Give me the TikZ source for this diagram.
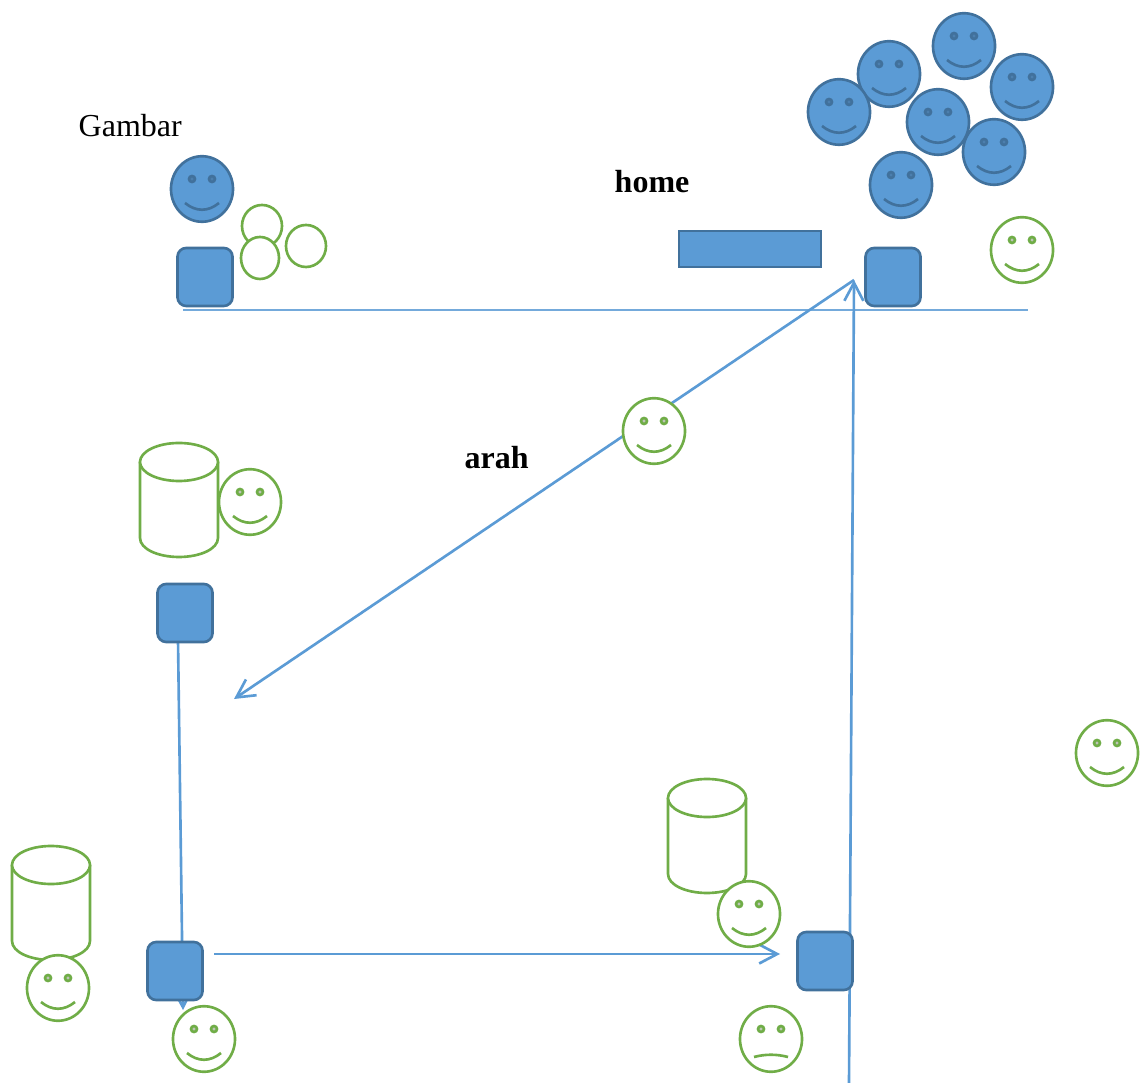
\documentclass[tikz,border=0pt]{standalone}
\usepackage{fontspec}
\setmainfont{Liberation Serif}
\usetikzlibrary{arrows.meta,shapes.geometric}

\definecolor{boxblue}{HTML}{5B9BD5}
\definecolor{edgeblue}{HTML}{41719C}
\definecolor{eyeblue}{HTML}{4C7FAE}
\definecolor{facegreen}{HTML}{70AD47}
\definecolor{eyegrey}{HTML}{BDC4B6}

\tikzset{
  facebody/.style={ellipse, inner sep=0pt, minimum width=0.62cm, minimum height=0.655cm, line width=0.75pt},
  blueface/.style={facebody, draw=edgeblue, fill=boxblue},
  greenface/.style={facebody, draw=facegreen, fill=white},
  robot/.style={draw=edgeblue, fill=boxblue, line width=0.75pt, rounded corners=2.5pt, inner sep=0pt, minimum width=0.55cm, minimum height=0.58cm},
  tin/.style={draw=facegreen, fill=white, line width=0.75pt},
  route/.style={draw=boxblue, line width=0.75pt, -{Straight Barb[length=0.18cm,width=0.19cm]}},
  label/.style={inner sep=0pt, anchor=base west, font=\fontsize{9.1}{11}\selectfont},
}

% face: name, x, y, line colour, eye colour, mouth corner, mouth control
\newcommand{\face}[7]{
  \node[#4face] (#1) at (#2,#3) {};
  \fill[#5, draw=#4Line, line width=0.75pt] (#2-10,#3-10) circle (0.03cm) (#2+10,#3-10) circle (0.03cm);
  \draw[#4Line, line width=0.75pt] (#2-17,#3+#6) .. controls (#2-6,#3+#7) and (#2+6,#3+#7) .. (#2+17,#3+#6);
}
\colorlet{blueLine}{edgeblue}
\colorlet{greenLine}{facegreen}

% tin: left x, top y (78 wide, 114 high)
\newcommand{\tincan}[2]{
  \draw[tin] (#1,#2+19) -- (#1,#2+95) .. controls (#1,#2+106) and (#1+18,#2+114) .. (#1+39,#2+114)
    .. controls (#1+60,#2+114) and (#1+78,#2+106) .. (#1+78,#2+95) -- (#1+78,#2+19);
  \draw[tin] (#1+39,#2+19) ellipse (0.39cm and 0.19cm);
}

\begin{document}
\begin{tikzpicture}[x=0.01cm,y=-0.01cm]
\useasboundingbox (0,0) rectangle (1140,1083);

% Ends of the routes
\coordinate (homeTip) at (854,280);
\coordinate (arahEnd) at (234,699);
\coordinate (upStart) at (849,1083);
\coordinate (leftTop) at (178,640);
\coordinate (leftEnd) at (183,1010);
\coordinate (lowStart) at (214,954);
\coordinate (lowEnd) at (780,954);
\coordinate (floorA) at (183,310);
\coordinate (floorB) at (1028,310);

% Routes
\draw[boxblue!85!white, line width=0.35pt] (floorA) -- (floorB);
\draw[route] (homeTip) -- (arahEnd);
\draw[route] (upStart) -- (homeTip);
\draw[route] (leftTop) -- (leftEnd);
\draw[route] (lowStart) -- (lowEnd);

% Boxes
\node[robot] (boxGambar) at (205,277) {};
\node[robot] (boxHome) at (893,277) {};
\node[robot] (boxLeft) at (185,613) {};
\node[robot] (boxLow) at (175,971) {};
\node[robot] (boxRight) at (825,961) {};
\node[draw=edgeblue, fill=boxblue, line width=0.75pt, inner sep=0pt, minimum width=1.42cm, minimum height=0.36cm] (door) at (750,249) {};

% Small circles
\node[facebody, draw=facegreen, fill=white, minimum width=0.4cm, minimum height=0.42cm] (ballA) at (262,226) {};
\node[facebody, draw=facegreen, fill=white, minimum width=0.38cm, minimum height=0.42cm] (ballB) at (260,258) {};
\node[facebody, draw=facegreen, fill=white, minimum width=0.4cm, minimum height=0.42cm] (ballC) at (306,246) {};

% Tins
\tincan{140}{443}
\tincan{668}{779}
\tincan{12}{846}

% Blue faces
\face{crowdA}{889}{74}{blue}{eyeblue}{14}{23}
\face{crowdB}{839}{112}{blue}{eyeblue}{14}{23}
\face{crowdC}{964}{46}{blue}{eyeblue}{14}{23}
\face{crowdD}{1022}{87}{blue}{eyeblue}{14}{23}
\face{crowdE}{938}{122}{blue}{eyeblue}{14}{23}
\face{crowdF}{994}{152}{blue}{eyeblue}{14}{23}
\face{crowdG}{901}{185}{blue}{eyeblue}{14}{23}
\face{single}{202}{189}{blue}{eyeblue}{14}{23}

% Green faces
\face{guestHome}{1022}{250}{green}{eyegrey}{14}{23}
\face{guestArah}{654}{431}{green}{eyegrey}{14}{23}
\face{guestTin}{250}{502}{green}{eyegrey}{14}{23}
\face{guestFar}{1107}{753}{green}{eyegrey}{14}{23}
\face{guestRight}{749}{914}{green}{eyegrey}{14}{23}
\face{guestSad}{771}{1039}{green}{eyegrey}{18}{15}
\face{guestCorner}{58}{988}{green}{eyegrey}{14}{23}
\face{guestLow}{204}{1039}{green}{eyegrey}{14}{23}

% Labels
\node[label] (gambar) at (78,137) {Gambar};
\node[label, font=\fontsize{9.1}{11}\selectfont\bfseries] (home) at (614,193) {home};
\node[label, font=\fontsize{9.1}{11}\selectfont\bfseries] (arah) at (464,469) {arah};
\end{tikzpicture}
\end{document}
